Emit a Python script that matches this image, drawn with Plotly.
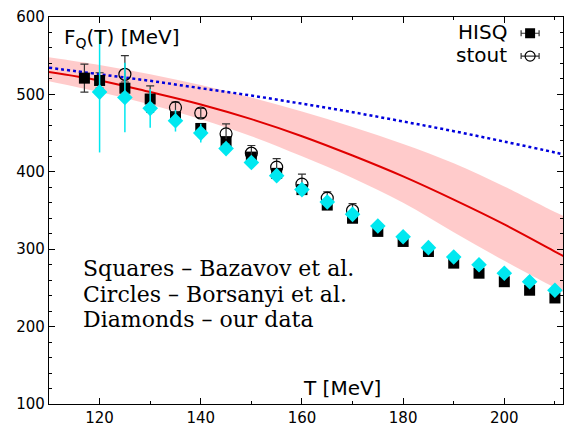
import plotly.graph_objects as go

# Lattice data: static quark free energy F_Q(T)
T_hisq = [117, 120, 125, 130, 135, 140, 145, 150, 155, 160, 165, 170, 175, 180, 185, 190, 195, 200, 205, 210]
F_hisq = [521, 518, 508, 494, 471, 456, 439, 419, 398, 377, 357, 340, 323, 310, 297, 282, 269, 258, 247, 237]
E_hisq = [18, 10, 8, 17, 6, 5, 5, 5, 4, 4, 4, 4, 4, 4, 4, 4, 4, 4, 4, 4]

T_stout = [125, 135, 140, 145, 150, 155, 160, 165, 170]
F_stout = [526, 483, 476, 449, 424, 406, 384, 366, 350]
E_stout = [24, 7, 6, 13, 10, 11, 13, 8, 9]

T_ours = [120, 125, 130, 135, 140, 145, 150, 155, 160, 165, 170, 175, 180, 185, 190, 195, 200, 205, 210]
F_ours = [503, 496, 482, 466, 450, 430, 412, 395, 377, 361, 345, 330, 316, 302, 290, 280, 269, 258, 247]
E_ours = [78, 45, 25, 14, 12, 7, 5, 3, 3, 3, 3, 2, 2, 2, 2, 2, 2, 2, 2]

# Model curves
T_curve = [110, 120, 130, 140, 150, 160, 170, 180, 190, 200, 210, 212]
F_red = [529, 518, 503, 487, 468, 446, 421, 394, 364, 332, 297, 290]
F_red_hi = [548, 538, 526, 512, 496, 478, 458, 436, 411, 381, 348, 342]
F_red_lo = [517, 503, 487, 468, 446, 420, 392, 360, 322, 285, 250, 243]
F_blue = [534.5, 526, 517.5, 508, 498.5, 488, 477, 465, 452.5, 439, 425, 422]

# Caption lines
caption = ["Squares – Bazavov et al.", "Circles – Borsanyi et al.", "Diamonds – our data"]

SANS = "DejaVu Sans"
SERIF = "DejaVu Serif"
ERR_COL = "#333333"

fig = go.Figure()

# uncertainty band
fig.add_trace(go.Scatter(x=T_curve, y=F_red_lo, mode="lines", line=dict(width=0, shape="spline"),
                         hoverinfo="skip", showlegend=False))
fig.add_trace(go.Scatter(x=T_curve, y=F_red_hi, mode="lines", line=dict(width=0, shape="spline"),
                         fill="tonexty", fillcolor="rgba(255,190,190,0.8)",
                         hoverinfo="skip", showlegend=False))
fig.add_trace(go.Scatter(x=T_curve, y=F_red, mode="lines",
                         line=dict(color="#e00000", width=2, shape="spline"), showlegend=False))
fig.add_trace(go.Scatter(x=T_curve, y=F_blue, mode="lines",
                         line=dict(color="#0000dd", width=2.5, dash="dot", shape="spline"), showlegend=False))

fig.add_trace(go.Scatter(x=T_hisq, y=F_hisq, mode="markers", name="HISQ",
                         marker=dict(symbol="square", size=11, color="black"),
                         error_y=dict(type="data", array=E_hisq, color=ERR_COL, thickness=1.2, width=4),
                         showlegend=False))
fig.add_trace(go.Scatter(x=T_stout, y=F_stout, mode="markers", name="stout",
                         marker=dict(symbol="circle-open", size=12, color="black", line=dict(width=1.2)),
                         error_y=dict(type="data", array=E_stout, color=ERR_COL, thickness=1.2, width=4),
                         showlegend=False))
fig.add_trace(go.Scatter(x=T_ours, y=F_ours, mode="markers", name="ours",
                         marker=dict(symbol="diamond", size=12, color="#00e8f0"),
                         error_y=dict(type="data", array=E_ours, color="#00e8f0", thickness=1.5, width=0),
                         showlegend=False))

# key samples in the top-right corner (overlay axes in fractional units)
fig.add_trace(go.Scatter(x=[0.936], y=[0.958], mode="markers", xaxis="x2", yaxis="y2",
                         marker=dict(symbol="square", size=10, color="black"),
                         error_x=dict(type="constant", value=0.0175, color=ERR_COL, thickness=1.2, width=3),
                         showlegend=False, hoverinfo="skip"))
fig.add_trace(go.Scatter(x=[0.936], y=[0.899], mode="markers", xaxis="x2", yaxis="y2",
                         marker=dict(symbol="circle-open", size=10, color="black", line=dict(width=1.2)),
                         error_x=dict(type="constant", value=0.0175, color=ERR_COL, thickness=1.2, width=3),
                         showlegend=False, hoverinfo="skip"))

fig.update_layout(
    width=564, height=431,
    margin=dict(l=49, r=1, t=17, b=27),
    paper_bgcolor="white", plot_bgcolor="white",
    showlegend=False,
    font=dict(family=SANS, size=15, color="black"),
    xaxis=dict(range=[110, 211.6], tickvals=[120, 140, 160, 180, 200], ticks="inside", ticklen=6,
               tickcolor="black", showline=True, linecolor="black", linewidth=1.2, mirror="ticks",
               showgrid=False, zeroline=False, tickfont=dict(family=SANS, size=15),
               minor=dict(tickvals=[130, 150, 170, 190, 210], ticks="inside", ticklen=3, tickcolor="black")),
    yaxis=dict(range=[100, 600], tickvals=[100, 200, 300, 400, 500, 600], ticks="inside", ticklen=6,
               tickcolor="black", showline=True, linecolor="black", linewidth=1.2, mirror="ticks",
               showgrid=False, zeroline=False, tickfont=dict(family=SANS, size=15),
               minor=dict(dtick=20, ticks="inside", ticklen=3, tickcolor="black")),
    xaxis2=dict(overlaying="x", range=[0, 1], visible=False, fixedrange=True),
    yaxis2=dict(overlaying="y", range=[0, 1], visible=False, fixedrange=True),
)

ann = [
    dict(text="F<sub>Q</sub>(T) [MeV]", x=0.025, y=0.985, xanchor="left", yanchor="top",
         font=dict(family=SANS, size=20)),
    dict(text="T [MeV]", x=0.49, y=0.005, xanchor="left", yanchor="bottom",
         font=dict(family=SANS, size=20)),
    dict(text="HISQ", x=0.895, y=0.962, xanchor="right", yanchor="middle",
         font=dict(family=SANS, size=20)),
    dict(text="stout", x=0.895, y=0.901, xanchor="right", yanchor="middle",
         font=dict(family=SANS, size=20)),
]
for line, yy in zip(caption, [0.3514, 0.2842, 0.2171]):
    ann.append(dict(text=line, x=0.063, y=yy, xanchor="left", yanchor="middle",
                    font=dict(family=SERIF, size=22)))
for a in ann:
    a.update(xref="paper", yref="paper", showarrow=False)
fig.update_layout(annotations=ann)

fig.write_html("out.html")
